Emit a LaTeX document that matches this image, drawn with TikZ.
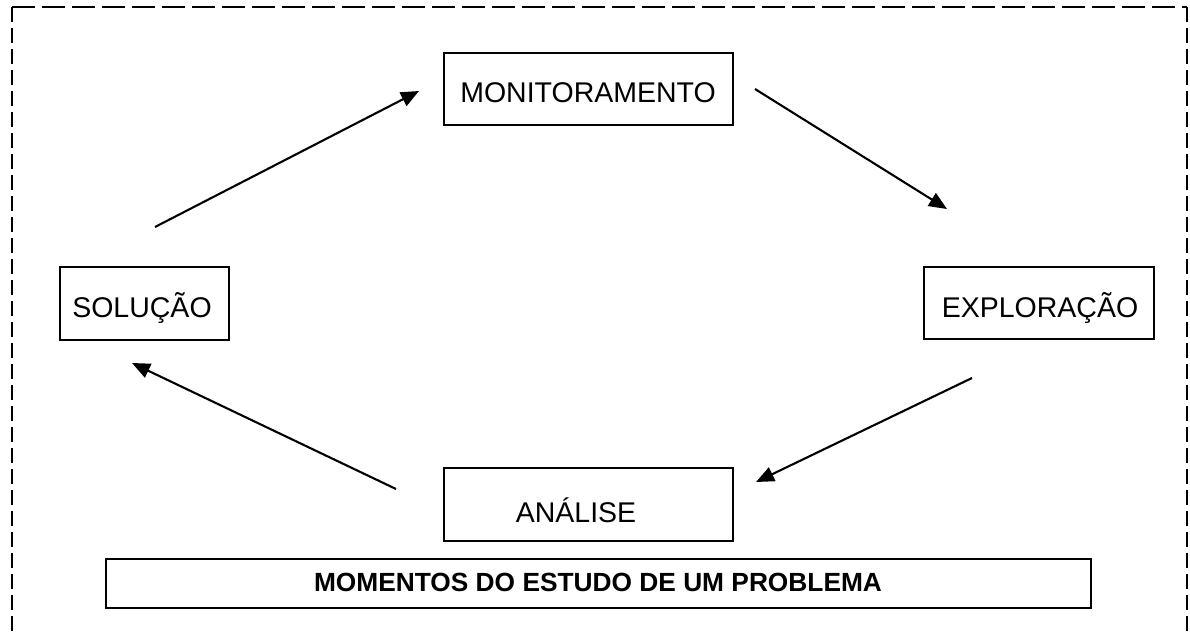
\documentclass[tikz,border=0pt]{standalone}
\usepackage{fontspec}
\setmainfont{Liberation Sans}
\usetikzlibrary{arrows.meta,calc}
\begin{document}
\begin{tikzpicture}[x=1pt,y=-1pt,
  stagebox/.style={draw,line width=1.7pt,inner sep=0pt,anchor=north west},
  lbl/.style={anchor=base,inner sep=0pt,font=\fontsize{28.5}{30}\selectfont},
  ttl/.style={anchor=base,inner sep=0pt,font=\fontsize{26.3}{28}\selectfont\bfseries},
  flow/.style={line width=2.1pt,-{Triangle[length=18pt,width=15pt]}},
  frameH/.style={line width=2.6pt,dash pattern=on 23pt off 7pt},
  frameV/.style={line width=2.6pt,dash pattern=on 15pt off 6pt}]
\useasboundingbox (0,0) rectangle (1190,634);
% dashed frame, open at the bottom
\coordinate (ftl) at (12,7);
\coordinate (ftr) at (1187,7);
\coordinate (fbl) at (12,640);
\coordinate (fbr) at (1187,640);
\draw[frameH] (ftl) -- (ftr);
\draw[frameV] (ftl) -- (fbl);
\draw[frameV] (ftr) -- (fbr);
% boxes
\node[stagebox,minimum width=289pt,minimum height=72pt] (mon) at (443,52) {};
\node[stagebox,minimum width=169pt,minimum height=73pt] (sol) at (59,266) {};
\node[stagebox,minimum width=230pt,minimum height=72pt] (exp) at (923,266) {};
\node[stagebox,minimum width=289pt,minimum height=73pt] (ana) at (443,467) {};
\node[stagebox,minimum width=985pt,minimum height=49pt,line width=1.5pt] (tit) at (105,558) {};
% labels
\node[lbl] (monl) at (588,102) {MONITORAMENTO};
\node[lbl] (soll) at (142,317) {SOLUÇÃO};
\node[lbl] (expl) at (1040,317) {EXPLORAÇÃO};
\node[lbl] (anal) at (576,522) {ANÁLISE};
\node[ttl] (titl) at (598,591) {MOMENTOS DO ESTUDO DE UM PROBLEMA};
% arrow ends
\coordinate (a1s) at (155,227); \coordinate (a1e) at (419,91);
\coordinate (a2s) at (755,89);  \coordinate (a2e) at (947,209);
\coordinate (a3s) at (972,378); \coordinate (a3e) at (756,482);
\coordinate (a4s) at (396,489); \coordinate (a4e) at (132,363);
\draw[flow] (a1s) -- (a1e);
\draw[flow] (a2s) -- (a2e);
\draw[flow] (a3s) -- (a3e);
\draw[flow] (a4s) -- (a4e);
\end{tikzpicture}
\end{document}
